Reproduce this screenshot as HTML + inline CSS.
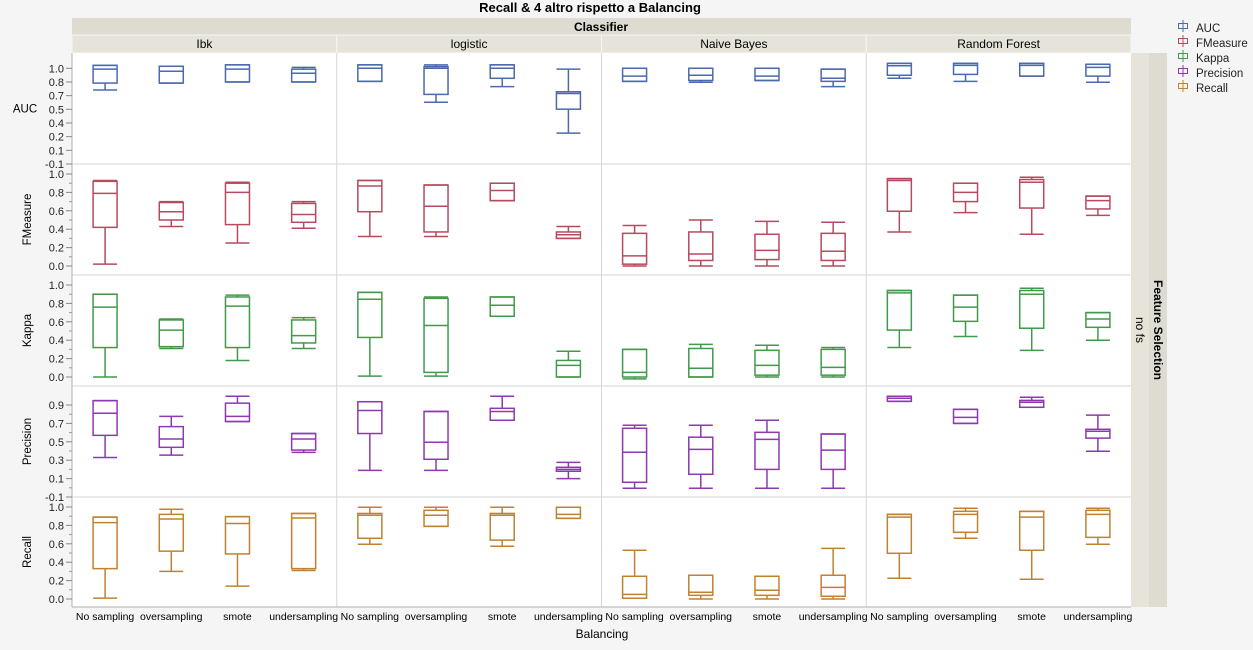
<!DOCTYPE html>
<html><head><meta charset="utf-8"><style>
html,body{margin:0;padding:0;background:#f5f5f5;}
body{width:1253px;height:645px;overflow:hidden;font-family:"Liberation Sans",sans-serif;}
svg text{font-family:"Liberation Sans",sans-serif;}
</style></head><body>
<svg id="chart" width="1253" height="645" xmlns="http://www.w3.org/2000/svg">
<text x="590" y="12" text-anchor="middle" font-size="13" font-weight="bold" fill="#000">Recall &amp; 4 altro rispetto a Balancing</text>
<rect x="72" y="18" width="1059" height="17" fill="#dedcd0"/>
<text x="601" y="31" text-anchor="middle" font-size="12" font-weight="bold">Classifier</text>
<rect x="1131" y="53" width="18" height="554" fill="#e6e4da"/>
<rect x="1149" y="53" width="18" height="554" fill="#dedcd0"/>
<text transform="translate(1136,330) rotate(90)" text-anchor="middle" font-size="12">no fs</text>
<text transform="translate(1154,330) rotate(90)" text-anchor="middle" font-size="12" font-weight="bold">Feature Selection</text>
<text x="602" y="638" text-anchor="middle" font-size="12">Balancing</text>
<g id="legend"></g>
<g id="plot"></g>
</svg>
<script>
const classifiers = ["Ibk","logistic","Naive Bayes","Random Forest"];
const balancing = ["No sampling","oversampling","smote","undersampling"];
const metrics = ["AUC","FMeasure","Kappa","Precision","Recall"];
// each box: [lowWhisker, q1, median, q3, highWhisker]; order: Ibk x4, logistic x4, NB x4, RF x4
const aucBoxes = [[0.75,0.83,0.99,1.034,1.034],[0.83,0.83,0.966,1.023,1.023],[0.843,0.843,0.99,1.04,1.04],[0.843,0.843,0.943,0.99,1.01],
[0.85,0.85,1.0,1.04,1.04],[0.61,0.70,1.0,1.02,1.04],[0.79,0.885,1.0,1.04,1.04],[0.255,0.53,0.71,0.73,0.99],
[0.85,0.85,0.91,1.0,1.0],[0.84,0.86,0.92,1.0,1.0],[0.86,0.86,0.91,1.0,1.0],[0.79,0.85,0.885,0.99,0.99],
[0.885,0.92,1.03,1.057,1.057],[0.85,0.93,1.034,1.057,1.057],[0.91,0.91,1.034,1.057,1.057],[0.84,0.91,1.01,1.046,1.046]];
const fmeasureBoxes = [[0.02,0.42,0.79,0.92,0.93],[0.43,0.50,0.59,0.69,0.70],[0.25,0.45,0.80,0.90,0.91],[0.41,0.475,0.56,0.68,0.70],
[0.32,0.59,0.87,0.93,0.93],[0.32,0.37,0.65,0.88,0.88],[0.71,0.71,0.82,0.90,0.90],[0.30,0.30,0.34,0.37,0.43],
[0.0,0.02,0.11,0.355,0.44],[0.0,0.06,0.13,0.37,0.50],[0.0,0.07,0.17,0.345,0.485],[0.0,0.06,0.16,0.355,0.475],
[0.37,0.595,0.93,0.95,0.95],[0.58,0.70,0.80,0.90,0.90],[0.345,0.63,0.91,0.94,0.965],[0.55,0.62,0.71,0.76,0.76]];
const kappaBoxes = [[0.0,0.32,0.76,0.90,0.90],[0.31,0.33,0.51,0.62,0.63],[0.18,0.32,0.77,0.87,0.89],[0.31,0.37,0.45,0.62,0.645],
[0.01,0.43,0.845,0.92,0.92],[0.01,0.05,0.56,0.855,0.87],[0.66,0.66,0.78,0.87,0.87],[0.0,0.0,0.127,0.18,0.28],
[-0.02,0.0,0.05,0.30,0.30],[0.0,0.0,0.095,0.31,0.355],[0.0,0.02,0.127,0.29,0.345],[0.0,0.02,0.105,0.30,0.32],
[0.32,0.51,0.915,0.94,0.94],[0.44,0.605,0.76,0.89,0.89],[0.29,0.53,0.90,0.94,0.965],[0.40,0.54,0.63,0.70,0.70]];
const precisionBoxes = [[0.33,0.57,0.81,0.947,0.947],[0.355,0.44,0.53,0.665,0.777],[0.72,0.72,0.777,0.92,0.995],[0.385,0.41,0.53,0.59,0.59],
[0.19,0.59,0.84,0.936,0.936],[0.19,0.31,0.495,0.83,0.83],[0.734,0.734,0.83,0.864,0.995],[0.10,0.18,0.20,0.223,0.277],
[-0.005,0.06,0.386,0.647,0.68],[-0.005,0.147,0.418,0.55,0.68],[-0.005,0.20,0.527,0.603,0.734],[-0.005,0.20,0.41,0.585,0.585],
[0.94,0.94,0.973,0.995,0.995],[0.70,0.70,0.766,0.853,0.853],[0.875,0.875,0.93,0.95,0.984],[0.397,0.54,0.614,0.636,0.79]];
const recallBoxes = [[0.01,0.33,0.83,0.89,0.89],[0.30,0.52,0.87,0.92,0.975],[0.14,0.49,0.82,0.895,0.895],[0.31,0.33,0.88,0.93,0.93],
[0.595,0.66,0.91,0.93,0.997],[0.79,0.79,0.91,0.964,0.997],[0.573,0.64,0.91,0.93,0.997],[0.877,0.877,0.92,0.997,0.997],
[0.008,0.008,0.05,0.247,0.53],[0.0,0.04,0.073,0.258,0.258],[0.0,0.04,0.095,0.247,0.247],[0.0,0.03,0.127,0.258,0.55],
[0.225,0.497,0.89,0.92,0.92],[0.66,0.725,0.92,0.953,0.986],[0.214,0.53,0.89,0.953,0.953],[0.595,0.67,0.92,0.964,0.986]];
const aucTicks = ["-0.1","0.1","0.2","0.4","0.5","0.7","0.8","1.0"];
const fmeasureTicks = ["0.0","0.2","0.4","0.6","0.8","1.0"];
const kappaTicks = ["0.0","0.2","0.4","0.6","0.8","1.0"];
const precisionTicks = ["-0.1","0.1","0.3","0.5","0.7","0.9"];
const recallTicks = ["0.0","0.2","0.4","0.6","0.8","1.0"];

const NS="http://www.w3.org/2000/svg";
const svg=document.getElementById('plot');
const leg=document.getElementById('legend');
function mk(tag,attrs,parent){const e=document.createElementNS(NS,tag);for(const k in attrs)e.setAttribute(k,attrs[k]);(parent||svg).appendChild(e);return e;}
const colors=["#4B6AAE","#B64A5E","#43994B","#8C3AAE","#BF8232"];
const allBoxes=[aucBoxes,fmeasureBoxes,kappaBoxes,precisionBoxes,recallBoxes];
const allTicks=[aucTicks,fmeasureTicks,kappaTicks,precisionTicks,recallTicks];
const rowTop=[53,164,275,386,497], rowBot=[164,275,386,497,607];
const axes=[[-0.1,1.0,164,68.3],[0,1,266,174],[0,1,377,285],[-0.1,0.9,497,405],[0,1,599,507]];
const px0=72,pxW=1059,colW=pxW/4;
function yScale(r,v){const a=axes[r];return a[2]+(v-a[0])/(a[1]-a[0])*(a[3]-a[2]);}
function xCenter(ci,bi){return px0+ci*colW+colW*(2*bi+1)/8;}

classifiers.forEach((c,ci)=>{
  const g=mk('rect',{x:px0+ci*colW,y:35,width:colW,height:18,fill:'#e6e4da',stroke:'#f5f5f5','stroke-width':1});
  
  
  const t=mk('text',{x:px0+ci*colW+colW/2,y:48,'text-anchor':'middle','font-size':12});
  t.textContent=c;
  
  
});
const bg=mk('rect',{x:px0,y:53,width:pxW,height:554,fill:'#fff'});


for(let r=1;r<5;r++){const l=mk('line',{x1:px0,x2:px0+pxW,y1:rowTop[r],y2:rowTop[r],stroke:'#d6d6d6'});

}
for(let c=1;c<4;c++){const l=mk('line',{x1:px0+c*colW,x2:px0+c*colW,y1:53,y2:607,stroke:'#d6d6d6'});

}
const ax=mk('line',{x1:px0,x2:px0,y1:53,y2:607,stroke:'#b0b0b0'});


const bx=mk('line',{x1:px0,x2:px0+pxW,y1:607,y2:607,stroke:'#b0b0b0'});



metrics.forEach((m,r)=>{
  const ticks=allTicks[r];const a=axes[r];
  ticks.forEach((lab,i)=>{
    const v=a[0]+(a[1]-a[0])*i/(ticks.length-1);
    const y=yScale(r,v);
    const tl=mk('line',{x1:66,x2:72,y1:y,y2:y,stroke:'#888'});
    
    
    const t=mk('text',{x:64,y:y+4,'text-anchor':'end','font-size':11,fill:'#222'});
    t.textContent=lab;
    
    
    if(i<ticks.length-1 && r!==0){const vm=v+(a[1]-a[0])/(ticks.length-1)/2;const ym=yScale(r,vm);
      const ml=mk('line',{x1:69,x2:72,y1:ym,y2:ym,stroke:'#999'});
      
      }
  });
  const cy=(rowTop[r]+rowBot[r])/2;
  let t;
  if(r===0){t=mk('text',{x:25,y:cy+4,'text-anchor':'middle','font-size':11.5});}
  else{t=mk('text',{transform:`translate(31,${cy}) rotate(-90)`,'text-anchor':'middle','font-size':11.5});}
  t.textContent=m;
  
  
});
classifiers.forEach((c,ci)=>balancing.forEach((b,bi)=>{
  const t=mk('text',{x:xCenter(ci,bi),y:620,'text-anchor':'middle','font-size':10.5});
  t.textContent=b;
  
  
}));
const hw=12;
allBoxes.forEach((boxes,r)=>{
  boxes.forEach((bxv,k)=>{
    const ci=Math.floor(k/4),bi=k%4,x=xCenter(ci,bi);
    const [lo,q1,med,q3,hi]=bxv.map(v=>yScale(r,v));
    const g=mk('g',{stroke:colors[r],'stroke-width':1.5,fill:'none'});
    
    
    mk('line',{x1:x,x2:x,y1:hi,y2:q3},g);
    mk('line',{x1:x,x2:x,y1:q1,y2:lo},g);
    mk('line',{x1:x-hw,x2:x+hw,y1:hi,y2:hi},g);
    mk('line',{x1:x-hw,x2:x+hw,y1:lo,y2:lo},g);
    mk('rect',{x:x-hw,y:q3,width:hw*2,height:Math.max(0.5,q1-q3)},g);
    mk('line',{x1:x-hw,x2:x+hw,y1:med,y2:med},g);
  });
});
metrics.forEach((m,i)=>{
  const y=28+i*15;
  const g=mk('g',{stroke:colors[i],'stroke-width':1,fill:'none'},leg);
  
  
  mk('rect',{x:1178.5,y:y-4.5,width:9,height:5},g);
  mk('line',{x1:1183,x2:1183,y1:y-8,y2:y+4},g);
  const t=mk('text',{x:1196,y:y+4,'font-size':11.5,fill:'#222',stroke:'none'},g);
  t.textContent=m;
});
</script>
</body></html>
